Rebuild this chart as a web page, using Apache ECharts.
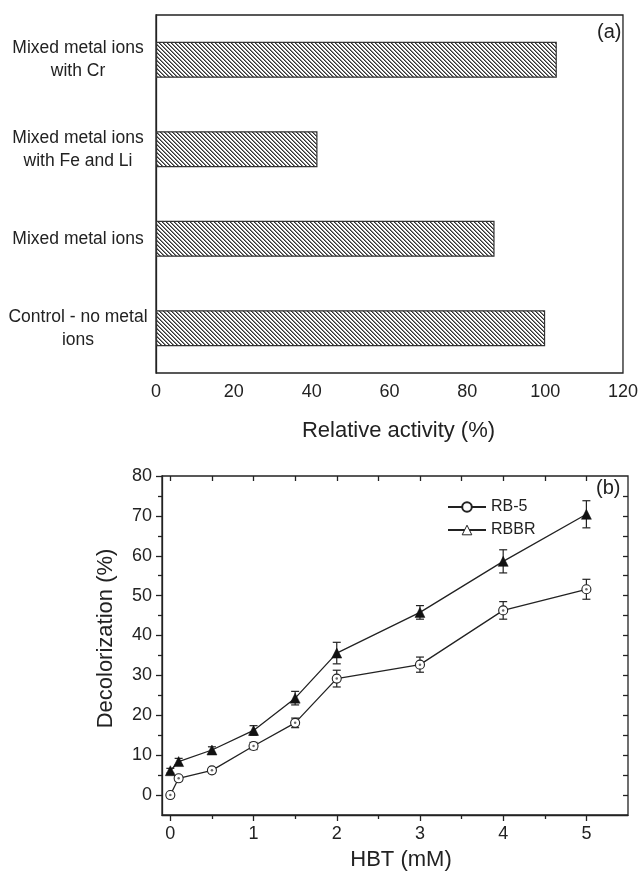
<!DOCTYPE html>
<html>
<head>
<meta charset="utf-8">
<script src="https://cdn.jsdelivr.net/npm/echarts@6/dist/echarts.min.js"></script>
<style>html,body{margin:0;background:#fff}#c{width:641px;height:872px}</style>
</head>
<body>
<div id="c"></div>
<script>
// (a) relative activity
const treatments = ['Mixed metal ions\nwith Cr', 'Mixed metal ions\nwith Fe and Li', 'Mixed metal ions', 'Control - no metal\nions'];
const activity = [103, 41.5, 87, 100];

// (b) decolorization vs HBT
const hbt = [0, 0.1, 0.5, 1, 1.5, 2, 3, 4, 5];
const rb5 = [0, 4.2, 6.2, 12.3, 18.1, 29.2, 32.7, 46.3, 51.6];
const rb5Err = [0.4, 0.6, 0.6, 0.9, 1.2, 2.1, 1.9, 2.2, 2.5];
const rbbr = [6.1, 8.4, 11.3, 16.2, 24.3, 35.6, 45.8, 58.6, 70.4];
const rbbrErr = [0.6, 0.8, 0.8, 1.2, 1.7, 2.7, 1.7, 2.9, 3.4];

const hbtTicks = [0, 1, 2, 3, 4, 5];
const hbtMinor = [0.5, 1.5, 2.5, 3.5, 4.5];
const hbtTop = [0, 0.5, 1, 1.5, 2, 2.5, 3, 3.5, 4, 4.5, 5];
const decolTicks = [0, 10, 20, 30, 40, 50, 60, 70, 80];
const decolMinor = [5, 15, 25, 35, 45, 55, 65, 75];
const decolRight = [0, 5, 10, 15, 20, 25, 30, 35, 40, 45, 50, 55, 60, 65, 70, 75];

const FONT = '"Liberation Sans", Arial, sans-serif';
const INK = '#222';
const line = { lineStyle: { color: INK, width: 1.3 } };

function hatch() {
  const c = document.createElement('canvas');
  c.width = c.height = 4;
  const g = c.getContext('2d');
  g.fillStyle = '#fff';
  g.fillRect(0, 0, 4, 4);
  for (let i = 0; i < 4; i++) {
    g.fillStyle = '#333'; g.fillRect(i, i, 1, 1);
    g.fillStyle = '#888'; g.fillRect((i + 1) % 4, i, 1, 1);
  }
  return c;
}

const errData = (ys, es) => hbt.map((x, i) => [x, ys[i] - es[i], ys[i] + es[i]]);

function renderErr(params, api) {
  const x = api.value(0);
  const lo = api.coord([x, api.value(1)]);
  const hi = api.coord([x, api.value(2)]);
  const w = 4;
  const style = { stroke: INK, lineWidth: 1.2 };
  return {
    type: 'group',
    children: [
      { type: 'line', shape: { x1: lo[0], y1: lo[1], x2: hi[0], y2: hi[1] }, style },
      { type: 'line', shape: { x1: lo[0] - w, y1: lo[1], x2: lo[0] + w, y2: lo[1] }, style },
      { type: 'line', shape: { x1: hi[0] - w, y1: hi[1], x2: hi[0] + w, y2: hi[1] }, style },
    ],
  };
}

// extra tick-only axis laid over a main one
const tickAxis = (base, values, len, inside) => ({
  ...base,
  axisLine: { show: false, onZero: false },
  axisTick: { show: true, customValues: values, length: len, inside, ...line },
  axisLabel: { show: false },
  splitLine: { show: false },
});

const label = { fontFamily: FONT, fontSize: 18, color: INK };
const title = { fontFamily: FONT, fontSize: 22, color: INK };

const chart = echarts.init(document.getElementById('c'));
const bx = { type: 'value', gridIndex: 1, min: -0.1, max: 5.5 };
const by = { type: 'value', gridIndex: 1, min: -5, max: 80 };

chart.setOption({
  animation: false,
  backgroundColor: '#fff',
  grid: [
    { left: 156, right: 9, top: 15, height: 358, show: true, borderColor: INK, borderWidth: 1.3 },
    { left: 162, right: 13, top: 476, height: 342, show: true, borderColor: INK, borderWidth: 1.3 },
  ],
  xAxis: [
    {
      type: 'value', gridIndex: 0, min: 0, max: 120, interval: 20,
      axisLine: line, axisTick: { length: 6, ...line },
      axisLabel: { ...label, margin: 10 },
      splitLine: { show: false },
      name: 'Relative activity (%)', nameLocation: 'middle', nameGap: 47,
      nameTextStyle: { ...title, padding: [0, 0, 0, 18] },
    },
    {
      ...bx, position: 'bottom',
      axisLine: { onZero: false, ...line },
      axisTick: { customValues: hbtTicks, length: 6, ...line },
      axisLabel: { ...label, customValues: hbtTicks, margin: 10 },
      splitLine: { show: false },
      name: 'HBT (mM)', nameLocation: 'middle', nameGap: 34,
      nameTextStyle: { ...title, padding: [0, 0, 0, 12] },
    },
    tickAxis({ ...bx, position: 'bottom' }, hbtMinor, 4, false),
    tickAxis({ ...bx, position: 'top' }, hbtTop, 5, true),
  ],
  yAxis: [
    {
      type: 'category', gridIndex: 0, data: treatments, inverse: true,
      axisLine: line, axisTick: { length: 6, ...line },
      axisLabel: { fontFamily: FONT, fontSize: 17.5, color: INK, align: 'center', margin: 78, lineHeight: 23 },
    },
    {
      ...by, position: 'left',
      axisLine: { onZero: false, ...line },
      axisTick: { customValues: decolTicks, length: 6, ...line },
      axisLabel: { ...label, customValues: decolTicks, margin: 10 },
      splitLine: { show: false },
      name: 'Decolorization (%)', nameLocation: 'middle', nameGap: 45,
      nameTextStyle: { ...title, padding: [0, 0, 0, 14] },
    },
    tickAxis({ ...by, position: 'left' }, decolMinor, 4, false),
    tickAxis({ ...by, position: 'right' }, decolRight, 5, true),
  ],
  legend: {
    data: [
      { name: 'RB-5' },
      { name: 'RBBR', itemStyle: { color: '#fff', borderColor: INK, borderWidth: 1 } },
    ],
    orient: 'vertical', left: 442, top: 494,
    itemWidth: 38, itemHeight: 12, itemGap: 7,
    textStyle: { fontFamily: FONT, fontSize: 16, color: INK },
  },
  graphic: [
    { type: 'text', left: 597, top: 22, style: { text: '(a)', font: `20px ${FONT}`, fill: INK } },
    { type: 'text', left: 596, top: 478, style: { text: '(b)', font: `20px ${FONT}`, fill: INK } },
  ],
  series: [
    {
      type: 'bar', xAxisIndex: 0, yAxisIndex: 0, data: activity, barWidth: 36,
      itemStyle: { color: { image: hatch(), repeat: 'repeat' }, borderColor: '#333', borderWidth: 1.2 },
    },
    {
      type: 'custom', xAxisIndex: 1, yAxisIndex: 1, data: errData(rb5, rb5Err),
      renderItem: renderErr, encode: { x: 0, y: [1, 2] }, z: 1,
    },
    {
      type: 'custom', xAxisIndex: 1, yAxisIndex: 1, data: errData(rbbr, rbbrErr),
      renderItem: renderErr, encode: { x: 0, y: [1, 2] }, z: 1,
    },
    {
      name: 'RB-5', type: 'line', xAxisIndex: 1, yAxisIndex: 1,
      data: hbt.map((x, i) => [x, rb5[i]]),
      symbol: 'circle', symbolSize: 9,
      lineStyle: { color: INK, width: 1.3 },
      itemStyle: { color: '#fff', borderColor: INK, borderWidth: 1.1 }, z: 3,
    },
    {
      type: 'scatter', xAxisIndex: 1, yAxisIndex: 1,
      data: hbt.map((x, i) => [x, rb5[i]]),
      symbolSize: 2.5, itemStyle: { color: '#444' }, z: 4, silent: true,
    },
    {
      name: 'RBBR', type: 'line', xAxisIndex: 1, yAxisIndex: 1,
      data: hbt.map((x, i) => [x, rbbr[i]]),
      symbol: 'triangle', symbolSize: 10,
      lineStyle: { color: INK, width: 1.3 },
      itemStyle: { color: '#111', borderColor: '#111', borderWidth: 0.5 }, z: 3,
    },
  ],
});
</script>
</body>
</html>
